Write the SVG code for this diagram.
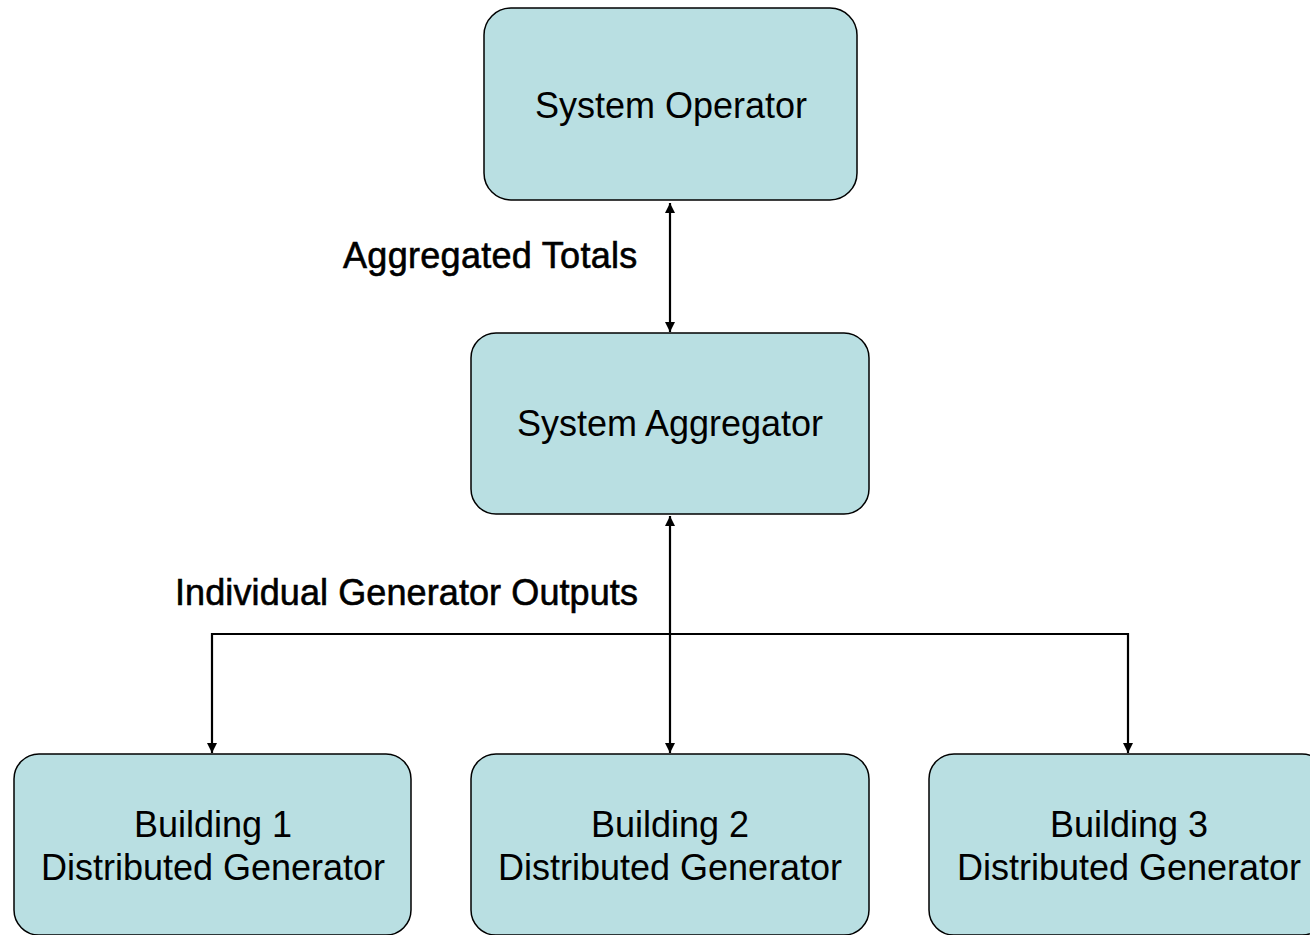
<svg xmlns="http://www.w3.org/2000/svg" width="1310" height="935" viewBox="0 0 1310 935">
<style>
.box{fill:#B9DFE2;stroke:#000;stroke-width:1.5}
.t{font-family:"Liberation Sans",Arial,sans-serif;font-size:36px;fill:#000;text-anchor:middle}
.lbl{font-family:"Liberation Sans",Arial,sans-serif;font-size:36px;fill:#000;stroke:#000;stroke-width:0.6}
.c{fill:none;stroke:#000;stroke-width:2.2}
</style>
<defs>
<marker id="ah" viewBox="0 0 10 10" refX="10" refY="5" markerWidth="10" markerHeight="10" markerUnits="userSpaceOnUse" orient="auto-start-reverse">
<path d="M0,0 L10,5 L0,10 Z" fill="#000"/>
</marker>
</defs>
<rect width="1310" height="935" fill="#fff"/>
<g id="operator"><rect class="box" x="484" y="8" width="373" height="192" rx="27"/><text class="t" x="671" y="118">System Operator</text></g>
<g id="aggregator"><rect class="box" x="471" y="333" width="398" height="181" rx="25"/><text class="t" x="670" y="436">System Aggregator</text></g>
<g id="b1"><rect class="box" x="14" y="754" width="397" height="181" rx="25"/><text class="t" x="213" y="837">Building 1</text><text class="t" x="213" y="880">Distributed Generator</text></g>
<g id="b2"><rect class="box" x="471" y="754" width="398" height="181" rx="25"/><text class="t" x="670" y="837">Building 2</text><text class="t" x="670" y="880">Distributed Generator</text></g>
<g id="b3"><rect class="box" x="929" y="754" width="398" height="181" rx="25"/><text class="t" x="1129" y="837">Building 3</text><text class="t" x="1129" y="880">Distributed Generator</text></g>
<g id="connectors">
<line class="c" x1="670" y1="203" x2="670" y2="332" marker-start="url(#ah)" marker-end="url(#ah)"/>
<line class="c" x1="670" y1="516" x2="670" y2="753" marker-start="url(#ah)" marker-end="url(#ah)"/>
<polyline class="c" points="212,753 212,634 1128,634 1128,753" marker-start="url(#ah)" marker-end="url(#ah)"/>
</g>
<text class="lbl" x="343" y="268" style="letter-spacing:0.3px">Aggregated Totals</text>
<text class="lbl" x="175" y="605" style="letter-spacing:0.1px">Individual Generator Outputs</text>
</svg>
